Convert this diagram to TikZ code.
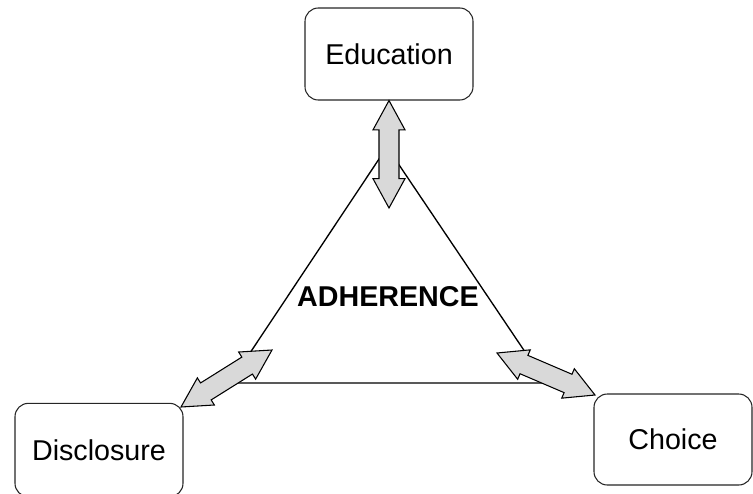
\documentclass[tikz,border=0pt]{standalone}
\usepackage{fontspec}
\setmainfont{Liberation Sans}
\usetikzlibrary{calc}

\newcommand*\headlen{22pt}
\newcommand*\headhalf{12pt}
\newcommand*\shafthalf{7.5pt}
\definecolor{arrowgray}{RGB}{217,217,217}
\tikzset{
  box/.style={
    draw=black!85,
    line width=0.8pt,
    rectangle,
    rounded corners=10pt,
    fill=white,
    minimum width=126pt,
    minimum height=69pt,
    font=\fontsize{21.5}{24}\selectfont
  },
  arrowbody/.style={
    draw=black,
    line width=0.8pt,
    fill=arrowgray,
    line join=miter
  }
}
% A wide double arrow between two points.
\newcommand*\blockarrow[2]{%
  \draw[arrowbody] (#1)
    -- ($(#1)!\headlen!(#2)!\headhalf!90:(#2)$)
    -- ($(#1)!\headlen!(#2)!\shafthalf!90:(#2)$)
    -- ($(#2)!\headlen!(#1)!\shafthalf!-90:(#1)$)
    -- ($(#2)!\headlen!(#1)!\headhalf!-90:(#1)$)
    -- (#2)
    -- ($(#2)!\headlen!(#1)!\headhalf!90:(#1)$)
    -- ($(#2)!\headlen!(#1)!\shafthalf!90:(#1)$)
    -- ($(#1)!\headlen!(#2)!\shafthalf!-90:(#2)$)
    -- ($(#1)!\headlen!(#2)!\headhalf!-90:(#2)$)
    -- cycle;}

\begin{document}
\begin{tikzpicture}[x=0.75pt,y=-0.75pt]
    \useasboundingbox (0,0) rectangle (753,493);

    % The three corners of the triangle.
    \coordinate (top) at (387,147);
    \coordinate (left) at (230,383);
    \coordinate (right) at (546,383);
    \draw[line width=1pt] (top) -- (left) -- (right) -- cycle;
    \node[font=\fontsize{21.5}{24}\selectfont\bfseries] (adh) at (388,297) {ADHERENCE};

    % The boxes round it.
    \node[box] (edu) at (389,54) {Education};
    \node[box,minimum height=70pt] (dis) at (99,450) {Disclosure};
    \node[box,minimum width=118.5pt,minimum height=68.25pt] (cho) at (673,439.5) {Choice};

    % Inner ends of the arrows.
    \coordinate (edu-in) at (389,208);
    \coordinate (dis-in) at (272,350);
    \coordinate (cho-in) at (497,353);
    \coordinate (dis-out) at (181,407);
    \coordinate (cho-out) at (595,395);

    \blockarrow{edu.south}{edu-in}
    \blockarrow{dis-out}{dis-in}
    \blockarrow{cho-in}{cho-out}

\end{tikzpicture}
\end{document}
